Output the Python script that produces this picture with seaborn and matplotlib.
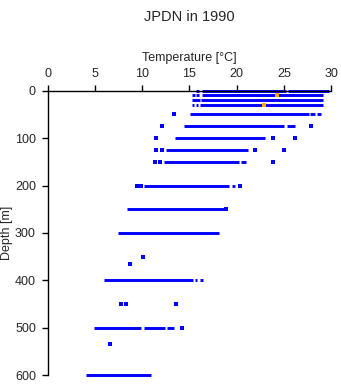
import matplotlib
matplotlib.use("Agg")
import matplotlib.pyplot as plt
import seaborn as sns
import pandas as pd

# Continuous runs of observations: depth [m], temperature start/end [°C]
seg_depth = [0, 0, 0,
             10, 10, 10,
             20, 20,
             30, 30, 30,
             50, 50, 50,
             75, 75,
             100,
             125,
             150, 150,
             200, 200,
             250,
             300,
             400, 400, 400,
             500, 500, 500,
             600]
seg_tmin = [15.7, 16.3, 25.4,
            15.3, 15.7, 16.3,
            15.3, 16.2,
            15.3, 15.7, 16.1,
            15.1, 27.8, 28.5,
            14.4, 25.3,
            13.5,
            12.5,
            12.3, 20.5,
            10.2, 19.5,
            8.4,
            7.4,
            6.0, 15.6, 16.1,
            4.9, 10.2, 12.6,
            4.1]
seg_tmax = [16.0, 25.2, 29.8,
            15.6, 16.0, 29.1,
            16.1, 29.1,
            15.5, 15.9, 29.1,
            27.7, 28.3, 28.9,
            25.0, 26.2,
            23.0,
            21.2,
            20.2, 21.0,
            19.2, 19.8,
            18.7,
            18.1,
            15.4, 15.8, 16.4,
            9.85, 12.4, 13.4,
            10.9]

# Isolated observations
pt_depth = [50, 75, 75, 100, 100, 100, 125, 125, 125, 125,
            150, 150, 150, 200, 200, 200, 250, 350, 366,
            450, 450, 450, 500, 534]
pt_temp = [13.4, 12.1, 27.9, 11.5, 23.9, 26.2, 11.5, 12.1, 21.9, 25.0,
           11.4, 11.9, 23.8, 9.5, 9.9, 20.4, 18.9, 10.1, 8.75,
           7.8, 8.3, 13.6, 14.2, 6.6]

# Highlighted (orange) observations
hl_depth = [10, 30]
hl_temp = [24.3, 22.9]

x_ticks = [0, 5, 10, 15, 20, 25, 30]
y_ticks = [0, 100, 200, 300, 400, 500, 600]

sns.set_theme(style="white")
plt.rcParams['font.family'] = ['Liberation Sans', 'DejaVu Sans']

fig = plt.figure(figsize=(3.41, 3.84), dpi=100)
ax = fig.add_axes([0.140, 0.0227, 0.831, 0.7413])

rows = []
for i, (d, a, b) in enumerate(zip(seg_depth, seg_tmin, seg_tmax)):
    rows.append({"seg": i, "depth": d, "temp": a})
    rows.append({"seg": i, "depth": d, "temp": b})
seg_df = pd.DataFrame(rows)

sns.lineplot(data=seg_df, x="temp", y="depth", units="seg", estimator=None,
             sort=False, color="#0000ff", linewidth=2.1, ax=ax,
             solid_capstyle="butt", clip_on=False, legend=False)

pts = pd.DataFrame({"depth": pt_depth, "temp": pt_temp})
sns.scatterplot(data=pts, x="temp", y="depth", color="#0000ff", marker="s",
                s=7, linewidth=0, ax=ax, clip_on=False, legend=False)

hl = pd.DataFrame({"depth": hl_depth, "temp": hl_temp})
sns.scatterplot(data=hl, x="temp", y="depth", color="#ffa500", marker="s",
                s=7, linewidth=0, ax=ax, clip_on=False, legend=False, zorder=5)

ax.set_xlim(0, 30)
ax.set_ylim(600, 0)
ax.set_xticks(x_ticks)
ax.set_yticks(y_ticks)
ax.xaxis.tick_top()
ax.xaxis.set_label_position("top")
for s in ["right", "bottom"]:
    ax.spines[s].set_visible(False)
for s in ["left", "top"]:
    ax.spines[s].set_color("black")
    ax.spines[s].set_linewidth(1.0)
ax.tick_params(axis="x", which="both", top=True, bottom=False, direction="out",
               length=4, width=1, color="black", labelsize=9, pad=3.5)
ax.tick_params(axis="y", which="both", left=True, direction="out",
               length=4, width=1, color="black", labelsize=9, pad=4.5)
ax.set_xlabel("Temperature [°C]", fontsize=9, labelpad=5)
ax.set_ylabel("Depth [m]", fontsize=9, labelpad=1.5)
ax.grid(False)

fig.text(0.555, 0.975, "JPDN in 1990", ha="center", va="top", fontsize=10.5)

fig.savefig("out.png", dpi=100)
